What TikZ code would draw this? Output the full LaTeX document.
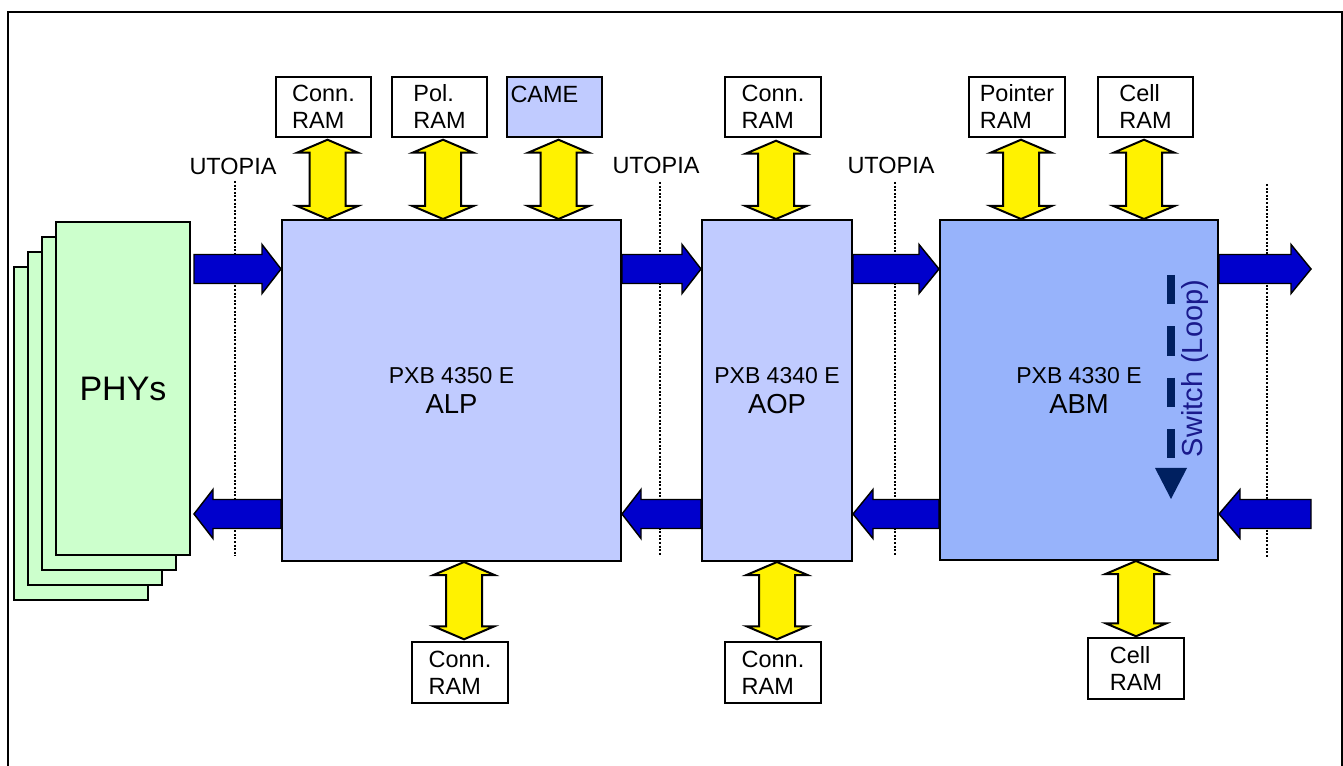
\documentclass[tikz,border=0pt]{standalone}
\usepackage{fontspec}
\setmainfont{Liberation Sans}
\usetikzlibrary{calc}
\definecolor{phyc}{HTML}{CCFFCC}
\definecolor{alpc}{HTML}{C0CBFF}
\definecolor{abmc}{HTML}{97B3FB}
\definecolor{arrb}{HTML}{0000CC}
\definecolor{swc}{HTML}{002060}
\definecolor{swt}{HTML}{1A1A8C}
\newdimen\pxu \pxu=0.75pt
\newcommand\harrow[3]{%
  \draw[bluearr] ($(#1)+(0,-14.5)$) -- ($(#2)+(#3,-14.5)$) -- ($(#2)+(#3,-24.5)$) -- (#2)
    -- ($(#2)+(#3,24.5)$) -- ($(#2)+(#3,14.5)$) -- ($(#1)+(0,14.5)$) -- cycle;}
\newcommand\varrow[2]{%
  \draw[yelarr] (#1) -- ($(#1)+(30.5,13)$) -- ($(#1)+(18,13)$) -- ($(#2)+(18,-13)$)
    -- ($(#2)+(30.5,-13)$) -- (#2) -- ($(#2)+(-30.5,-13)$) -- ($(#2)+(-18,-13)$)
    -- ($(#1)+(-18,13)$) -- ($(#1)+(-30.5,13)$) -- cycle;}
\newcommand\bigname{\fontsize{20.6}{22.5}\selectfont}
\tikzset{
  sz/.style 2 args={minimum width=#1\pxu, minimum height=#2\pxu},
  ramfont/.style={font=\fontsize{17.6}{20.25}\selectfont},
  ram/.style={draw, line width=1.1pt, fill=white, inner sep=0pt, align=left, ramfont},
  chip/.style={draw, line width=1.5pt, inner sep=0pt, align=center,
    font=\fontsize{17.25}{22.5}\selectfont},
  phy/.style={draw, fill=phyc, line width=1.5pt, inner sep=0pt, sz={134}{333}},
  bluearr/.style={draw=black, fill=arrb, line width=1.1pt, line join=miter},
  yelarr/.style={draw=black, fill=yellow, line width=1.5pt, line join=miter},
  dotline/.style={line width=1.5pt, dash pattern=on 1.5pt off 1.2pt},
  utop/.style={ramfont, inner sep=0pt},
}
\begin{document}
\begin{tikzpicture}[x=0.75pt,y=-0.75pt]
\useasboundingbox (0,0) rectangle (1343,766);
% frame
\coordinate (f1) at (7.5,766); \coordinate (f2) at (7.5,12);
\coordinate (f3) at (1341.5,12); \coordinate (f4) at (1341.5,766);
\draw[line width=1.5pt] (f1) -- (f2) -- (f3) -- (f4);
% PHYs stack
\node[phy] (p4) at (81,433.5) {};
\node[phy] (p3) at (95,418.5) {};
\node[phy] (p2) at (109,403.5) {};
\node[phy, font=\fontsize{25.5}{30}\selectfont] (p1) at (123,388.5) {PHYs};
% chips
\node[chip, fill=alpc, sz={339}{341}] (alp) at (451.5,390.5) {PXB 4350 E\\\bigname ALP};
\node[chip, fill=alpc, sz={150}{341}] (aop) at (777,390.5) {PXB 4340 E\\\bigname AOP};
\node[chip, fill=abmc, sz={278}{340}] (abm) at (1079,390) {PXB 4330 E\\\bigname ABM};
% RAM boxes
\node[ram, sz={95}{60}] (r1) at (323.5,107) {Conn.\\RAM};
\node[ram, sz={95}{60}] (r2) at (439.5,107) {Pol.\\RAM};
\node[ram, sz={95}{60}, fill=alpc,
  label={[anchor=north west, inner sep=0pt, ramfont, xshift=3pt, yshift=-7.5pt]north west:CAME}] (came) at (554.5,107) {};
\node[ram, sz={96}{60}] (r4) at (773,107) {Conn.\\RAM};
\node[ram, sz={96}{60}] (r5) at (1017,107) {Pointer\\RAM};
\node[ram, sz={95}{60}] (r6) at (1145.5,107) {Cell\\RAM};
\node[ram, sz={96}{61}] (r7) at (460,672.5) {Conn.\\RAM};
\node[ram, sz={96}{61}] (r8) at (773,672.5) {Conn.\\RAM};
\node[ram, sz={96}{61}] (r9) at (1136,668.5) {Cell\\RAM};
% UTOPIA labels and dotted lines
\node[utop] (u1) at (233,166) {UTOPIA};
\node[utop] (u2) at (656,165) {UTOPIA};
\node[utop] (u3) at (891,165) {UTOPIA};
\coordinate (d1t) at (235,181); \coordinate (d1b) at (235,556);
\coordinate (d2t) at (660,182); \coordinate (d2b) at (660,556);
\coordinate (d3t) at (895,182); \coordinate (d3b) at (895,556);
\coordinate (d4t) at (1267,184); \coordinate (d4b) at (1267,557);
\draw[dotline] (d1t) -- (d1b);
\draw[dotline] (d2t) -- (d2b);
\draw[dotline] (d3t) -- (d3b);
\draw[dotline] (d4t) -- (d4b);
% blue arrows
\coordinate (yT) at (0,269); \coordinate (yB) at (0,514);
\coordinate (a1s) at ($(p1.east |- yT)+(3,0)$);
\coordinate (a2t) at ($(p1.east |- yB)+(3,0)$);
\coordinate (outT) at (1311,269);
\coordinate (inB) at (1311,514);
\coordinate (alpWT) at (alp.west |- yT); \coordinate (alpWB) at (alp.west |- yB);
\coordinate (alpET) at (alp.east |- yT); \coordinate (alpEB) at (alp.east |- yB);
\coordinate (aopWT) at (aop.west |- yT); \coordinate (aopWB) at (aop.west |- yB);
\coordinate (aopET) at (aop.east |- yT); \coordinate (aopEB) at (aop.east |- yB);
\coordinate (abmWT) at (abm.west |- yT); \coordinate (abmWB) at (abm.west |- yB);
\coordinate (abmET) at (abm.east |- yT); \coordinate (abmEB) at (abm.east |- yB);
\harrow{a1s}{alpWT}{-19}
\harrow{alpWB}{a2t}{19}
\harrow{alpET}{aopWT}{-19}
\harrow{aopWB}{alpEB}{19}
\harrow{aopET}{abmWT}{-20}
\harrow{abmWB}{aopEB}{20}
\harrow{abmET}{outT}{-20}
\harrow{inB}{abmEB}{21}
% yellow double arrows
\coordinate (y1a) at ($(r1.south)+(4,2)$);   \coordinate (y1b) at (y1a |- alp.north);
\coordinate (y2a) at ($(r2.south)+(3.5,2)$); \coordinate (y2b) at (y2a |- alp.north);
\coordinate (y3a) at ($(came.south)+(4,2)$); \coordinate (y3b) at (y3a |- alp.north);
\coordinate (y4a) at ($(r4.south)+(3,3)$);   \coordinate (y4b) at (y4a |- aop.north);
\coordinate (y5a) at ($(r5.south)+(4,2)$);   \coordinate (y5b) at (y5a |- abm.north);
\coordinate (y6a) at ($(r6.south)+(-1.5,2)$);\coordinate (y6b) at (y6a |- abm.north);
\coordinate (y7b) at ($(r7.north)+(4,-2)$);  \coordinate (y7a) at (y7b |- alp.south);
\coordinate (y8b) at ($(r8.north)+(4,-2)$);  \coordinate (y8a) at (y8b |- aop.south);
\coordinate (y9b) at ($(r9.north)+(0,-1)$);  \coordinate (y9a) at (y9b |- abm.south);
\varrow{y1a}{y1b}
\varrow{y2a}{y2b}
\varrow{y3a}{y3b}
\varrow{y4a}{y4b}
\varrow{y5a}{y5b}
\varrow{y6a}{y6b}
\varrow{y7a}{y7b}
\varrow{y8a}{y8b}
\varrow{y9a}{y9b}
% switch loop
\coordinate (sw1) at (1171,275); \coordinate (sw2) at (1171,458);
\draw[swc, line width=5.6pt, dash pattern=on 22.1pt off 16.4pt] (sw1) -- (sw2);
\fill[swc] ($(sw2)+(-16,10)$) -- ($(sw2)+(16,10)$) -- ($(sw2)+(0,41)$) -- cycle;
\node[rotate=90, text=swt, inner sep=0pt, font=\fontsize{21.75}{26}\selectfont] (swl) at (1195,368.5) {Switch (Loop)};
\end{tikzpicture}
\end{document}
